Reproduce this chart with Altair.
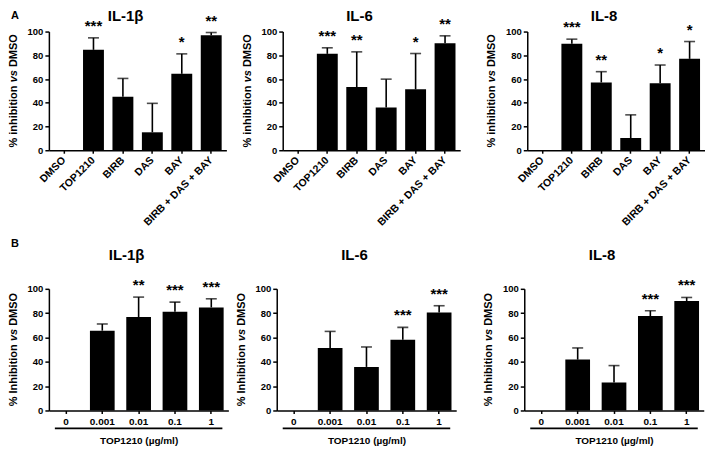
import altair as alt
import pandas as pd

FONT = "Liberation Sans"

# ---------------- data ----------------
treatments = ["DMSO", "TOP1210", "BIRB", "DAS", "BAY", "BIRB + DAS + BAY"]
doses = ["0", "0.001", "0.01", "0.1", "1"]

a_il1b = [0, 84.6, 45.1, 15.1, 64.4, 96.9]
a_il1b_err = [0, 10.1, 15.4, 24.4, 16.8, 2.3]
a_il1b_sig = ["", "***", "", "", "*", "**"]

a_il6 = [0, 81.2, 53.2, 36.1, 51.3, 90.2]
a_il6_err = [0, 5.1, 29.7, 23.8, 30.2, 6.2]
a_il6_sig = ["", "***", "**", "", "*", "**"]

a_il8 = [0, 89.7, 57.1, 10.3, 56.4, 77.0]
a_il8_err = [0, 3.9, 9.1, 19.5, 15.4, 14.6]
a_il8_sig = ["", "***", "**", "", "*", "*"]

b_il1b = [0, 65.6, 76.8, 81.1, 84.7]
b_il1b_err = [0, 5.5, 16.4, 8.0, 7.1]
b_il1b_sig = ["", "", "**", "***", "***"]

b_il6 = [0, 51.4, 35.8, 58.2, 80.6]
b_il6_err = [0, 13.6, 16.4, 10.1, 5.5]
b_il6_sig = ["", "", "", "***", "***"]

b_il8 = [0, 41.8, 23.0, 77.6, 89.9]
b_il8_err = [0, 9.6, 13.9, 4.4, 3.0]
b_il8_sig = ["", "", "", "***", "***"]

titles = ["IL-1\u03b2", "IL-6", "IL-8"]
x_title_b = "TOP1210 (\u00b5g/ml)"
y_ticks = [0, 20, 40, 60, 80, 100]


def text_layer(text, xv, yv, size, angle=0, style="normal", align="center",
               baseline="alphabetic"):
    return alt.Chart(pd.DataFrame({"t": [text]})).mark_text(
        font=FONT, fontSize=size, fontWeight="bold", fontStyle=style,
        angle=angle, align=align, baseline=baseline, color="black"
    ).encode(text="t:N", x=alt.value(xv), y=alt.value(yv))


def panel(cats, vals, errs, sigs, title, letter, cap_word, W, H, bottom):
    df = pd.DataFrame({"cat": cats, "val": vals, "err": errs, "sig": sigs})
    df["top"] = df["val"] + df["err"]
    if bottom:
        xscale = alt.Scale(paddingInner=0.32, paddingOuter=0.13)
        xaxis = alt.Axis(title=x_title_b, labelAngle=0, labelFontSize=10,
                         labelPadding=3, tickSize=3, titleFontSize=10,
                         titlePadding=9, labelOverlap=False)
    else:
        xscale = alt.Scale(paddingInner=0.29, paddingOuter=0.16)
        xaxis = alt.Axis(title=None, labelAngle=-45, labelAlign="right",
                         labelBaseline="middle", labelFontSize=10.5,
                         labelPadding=5, tickSize=3, labelOverlap=False)
    x = alt.X("cat:N", sort=cats, scale=xscale, axis=xaxis)
    yscale = alt.Scale(domain=[0, 100], nice=False, zero=True)
    yaxis = alt.Axis(values=y_ticks, title=None, tickSize=4,
                     labelFontSize=9.5, labelPadding=2, labelOverlap=False,
                     labelFlush=False, tickCount=6)
    base = alt.Chart(df)
    bars = base.mark_bar(color="black").encode(
        x=x, y=alt.Y("val:Q", scale=yscale, axis=yaxis))
    rule = base.transform_filter("datum.err > 0").mark_rule(
        color="black", strokeWidth=1.6).encode(
        x=x, y=alt.Y("val:Q", scale=yscale, axis=yaxis), y2="top:Q")
    cap = base.transform_filter("datum.err > 0").mark_tick(
        color="black", size=11, thickness=1.6).encode(
        x=x, y=alt.Y("top:Q", scale=yscale, axis=yaxis))
    stars = base.mark_text(font=FONT, fontSize=15, fontWeight="bold",
                           baseline="alphabetic", dy=-7, color="black").encode(
        x=x, y=alt.Y("top:Q", scale=yscale, axis=yaxis), text="sig:N")

    layers = [bars, rule, cap, stars]
    # panel title
    ty = -29 if bottom else -11
    layers.append(text_layer(title, W / 2 - 12, ty, 15))
    # y-axis title in three pieces ("vs" in italics)
    fs = 11
    start = H / 2 + 10.335 * fs / 2
    xt = -35
    layers.append(text_layer("% " + cap_word, xt, start, fs, angle=270,
                             align="left", baseline="middle"))
    layers.append(text_layer("vs", xt, start - 5.945 * fs, fs, angle=270,
                             style="italic", align="left", baseline="middle"))
    layers.append(text_layer("DMSO", xt, start - 7.335 * fs, fs, angle=270,
                             align="left", baseline="middle"))
    if letter:
        ly = -42 if bottom else -13
        layers.append(text_layer(letter, -38, ly, 11, align="left"))
    if bottom:
        bracket = alt.Chart(pd.DataFrame({"a": [0]})).mark_rule(
            color="black", strokeWidth=1.6).encode(
            x=alt.value(6), x2=alt.value(W - 6), y=alt.value(H + 18))
        layers.append(bracket)
    return alt.layer(*layers).properties(width=W, height=H)


WA, HA = 178, 119
WB, HB = 180, 122

p1 = panel(treatments, a_il1b, a_il1b_err, a_il1b_sig, titles[0], "A", "inhibition", WA, HA, False)
p2 = panel(treatments, a_il6, a_il6_err, a_il6_sig, titles[1], None, "inhibition", WA, HA, False)
p3 = panel(treatments, a_il8, a_il8_err, a_il8_sig, titles[2], None, "inhibition", WA, HA, False)

q1 = panel(doses, b_il1b, b_il1b_err, b_il1b_sig, titles[0], "B", "Inhibition", WB, HB, True)
q2 = panel(doses, b_il6, b_il6_err, b_il6_sig, titles[1], None, "Inhibition", WB, HB, True)
q3 = panel(doses, b_il8, b_il8_err, b_il8_sig, titles[2], None, "Inhibition", WB, HB, True)

top = alt.hconcat(alt.hconcat(p1, p2, spacing=15.5), p3, spacing=25.75)
bottom = alt.hconcat(alt.hconcat(q1, q2, spacing=7.5), q3, spacing=26.75)

chart = alt.vconcat(top, bottom, spacing=10).properties(
    padding=0, background="white"
).configure_view(stroke=None).configure_axis(
    domainColor="black", domainWidth=1.5, tickColor="black", tickWidth=1.5,
    labelColor="black", labelFont=FONT, labelFontWeight="bold",
    titleFont=FONT, titleFontWeight="bold", titleColor="black", grid=False,
    labelOverlap=False
)

chart.save("out.html", embed_options={"renderer": "svg", "actions": False})
